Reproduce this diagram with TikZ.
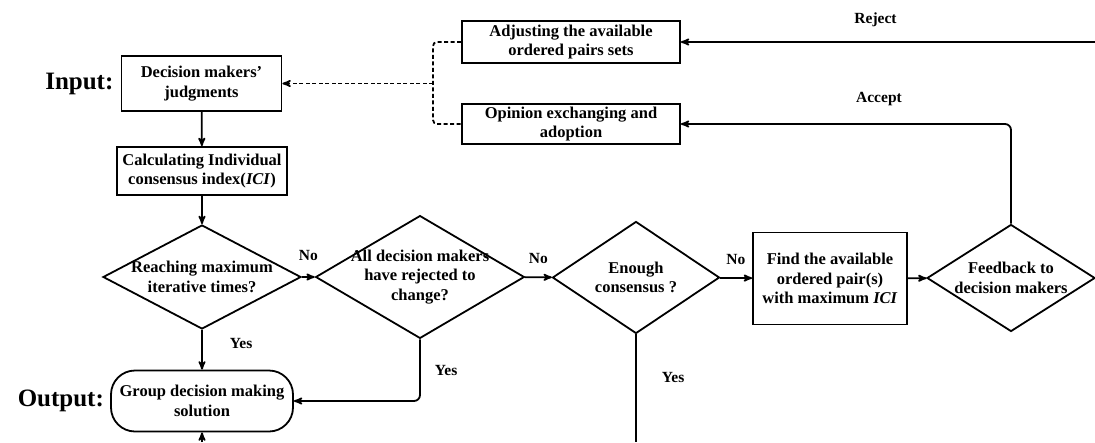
\documentclass[tikz,border=0pt]{standalone}
\usepackage{fontspec}
\setmainfont{Liberation Serif}
\usetikzlibrary{arrows,shapes.geometric,positioning}

\tikzset{
  procbox/.style={draw,line width=1.8pt,align=center,inner sep=0pt,
    font=\bfseries\fontsize{16.5}{19.5}\selectfont},
  decision/.style={draw,diamond,line width=1.8pt,align=center,inner sep=-4pt,
    font=\bfseries\fontsize{16.5}{19.5}\selectfont},
  termbox/.style={procbox,rounded corners=24pt},
  lbl/.style={font=\bfseries\fontsize{15.5}{18}\selectfont,inner sep=1pt},
  biglbl/.style={font=\bfseries\fontsize{25}{28}\selectfont,inner sep=2pt},
  flow/.style={->,line width=1.8pt},
  dashflow/.style={line width=1.8pt,dash pattern=on 4pt off 2.5pt,rounded corners=4pt},
}

\begin{document}
\begin{tikzpicture}[>=stealth',x=1pt,y=-1pt]
  \useasboundingbox (0,0) rectangle (1095,442);

  \node[procbox,minimum width=160pt,minimum height=55pt] (judg) at (201.5,83.5)
    {Decision makers’\\judgments};
  \node[procbox,minimum width=170pt,minimum height=48pt] (ici) at (202,171)
    {Calculating Individual\\consensus index(\textit{ICI})};
  \node[decision,minimum width=198pt,minimum height=104pt,aspect=1.9] (maxit) at (202,277)
    {Reaching maximum\\iterative times?};
  \node[decision,minimum width=193pt,minimum height=114pt,aspect=1.7] (allrej) at (420,277)
    {All decision makers\\have rejected to\\change?};
  \node[decision,minimum width=167pt,minimum height=112pt,aspect=1.5] (enough) at (636,277.5)
    {Enough\\consensus ?};
  \node[procbox,minimum width=154pt,minimum height=92pt] (find) at (830,278.5)
    {Find the available\\ordered pair(s)\\with maximum \textit{ICI}};
  \node[decision,minimum width=168pt,minimum height=107pt,aspect=1.6] (feedb) at (1011,278)
    {Feedback to\\decision makers};
  \node[termbox,minimum width=182pt,minimum height=61pt] (gdm) at (202,401)
    {Group decision making\\solution};
  \node[procbox,minimum width=218pt,minimum height=42pt] (adjust) at (571,42)
    {Adjusting the available\\ordered pairs sets};
  \node[procbox,minimum width=218pt,minimum height=40pt] (opinion) at (571,124)
    {Opinion exchanging and\\adoption};

  \node[biglbl,left=5pt of judg] (inlbl) {Input:};
  \node[biglbl,left=4pt of gdm] (outlbl) {Output:};

  \coordinate (jn) at (433,83.5);
  \coordinate (rj) at (1095,42);
  \coordinate (yesend) at (636,442);
  \coordinate (loopin) at (202,442);

  \draw[flow] (judg) -- (ici);
  \draw[flow] (ici) -- (maxit);
  \draw[flow] (maxit) -- node[lbl,above=14pt] {No} (allrej);
  \draw[flow] (allrej) -- node[lbl,above=12pt] {No} (enough);
  \draw[flow] (enough) -- node[lbl,above=11pt] {No} (find);
  \draw[flow] (find) -- (feedb);
  \draw[flow] (maxit) -- node[lbl,right=26pt,pos=0.35] {Yes} (gdm);
  \draw[flow,rounded corners=6pt] (allrej.south) |- node[lbl,right=13pt,pos=0.25] {Yes} (gdm.east);
  \draw[line width=1.8pt] (enough.south) -- node[lbl,right=24pt,pos=0.4] {Yes} (yesend);
  \draw[flow] (loopin) -- (gdm);
  \draw[flow,rounded corners=6pt] (feedb.north) |- node[lbl,above=16pt,pos=0.7] {Accept} (opinion.east);
  \draw[flow] (rj) -- node[lbl,above=13pt,pos=0.53] {Reject} (adjust.east);

  \draw[dashflow] (adjust.west) -| (jn) |- (opinion.west);
  \draw[dashflow,->] (jn) -- (judg.east);
\end{tikzpicture}
\end{document}
